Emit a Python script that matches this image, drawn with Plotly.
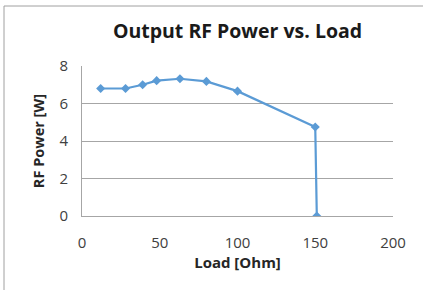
import plotly.graph_objects as go

load_ohm = [12, 28, 39, 48, 63, 80, 100, 150, 151]
rf_power_w = [6.8, 6.8, 7.0, 7.22, 7.32, 7.18, 6.66, 4.75, 0.0]

x_ticks = [0, 50, 100, 150, 200]
y_ticks = [0, 2, 4, 6, 8]

blue = "#5B9BD5"
font_family = "Open Sans, DejaVu Sans, sans-serif"

fig = go.Figure()
fig.add_trace(go.Scatter(
    x=load_ohm, y=rf_power_w, mode="lines+markers",
    line=dict(color=blue, width=2.2),
    marker=dict(symbol="diamond", size=7, color=blue),
    showlegend=False,
))

fig.update_layout(
    width=423, height=290,
    margin=dict(l=82, r=30, t=66, b=74, autoexpand=False),
    paper_bgcolor="white", plot_bgcolor="white",
    font=dict(family=font_family, color="#404040"),
    title=dict(text="<b>Output RF Power vs. Load</b>", x=0.5, xref="paper",
               xanchor="center", y=1 - 31 / 290, yref="container", yanchor="middle",
               automargin=False,
               font=dict(size=19.5, color="#1a1a1a", family=font_family)),
    xaxis=dict(range=[0, 200], tickvals=x_ticks, showgrid=False, automargin=False,
               showline=True, linecolor="#a6a6a6", linewidth=1,
               ticks="", tickfont=dict(size=15, color="#404040"),
               ticklabelstandoff=13,
               zeroline=False, fixedrange=True,
               title=dict(text="<b>Load [Ohm]</b>", font=dict(size=15, color="#262626"),
                          standoff=1)),
    yaxis=dict(range=[0, 8], tickvals=y_ticks, showgrid=True, automargin=False,
               gridcolor="#a6a6a6", gridwidth=1,
               showline=True, linecolor="#a6a6a6", linewidth=1,
               ticks="", tickfont=dict(size=15, color="#404040"),
               ticklabelstandoff=10,
               zeroline=False, fixedrange=True,
               title=dict(text="<b>RF Power [W]</b>", font=dict(size=14.5, color="#262626"),
                          standoff=11)),
    shapes=[
        dict(type="line", xref="paper", yref="paper", x0=-0.2508, x1=1.1, y0=1.4, y1=1.4,
             line=dict(color="#a0a0a0", width=1)),
        dict(type="line", xref="paper", yref="paper", x0=-0.2508, x1=-0.2508, y0=1.4, y1=-0.5,
             line=dict(color="#a0a0a0", width=1)),
    ],
)

fig.write_html("out.html",
               config={"displayModeBar": False},
               post_script="document.body.style.margin='0';document.body.style.overflow='hidden';")
